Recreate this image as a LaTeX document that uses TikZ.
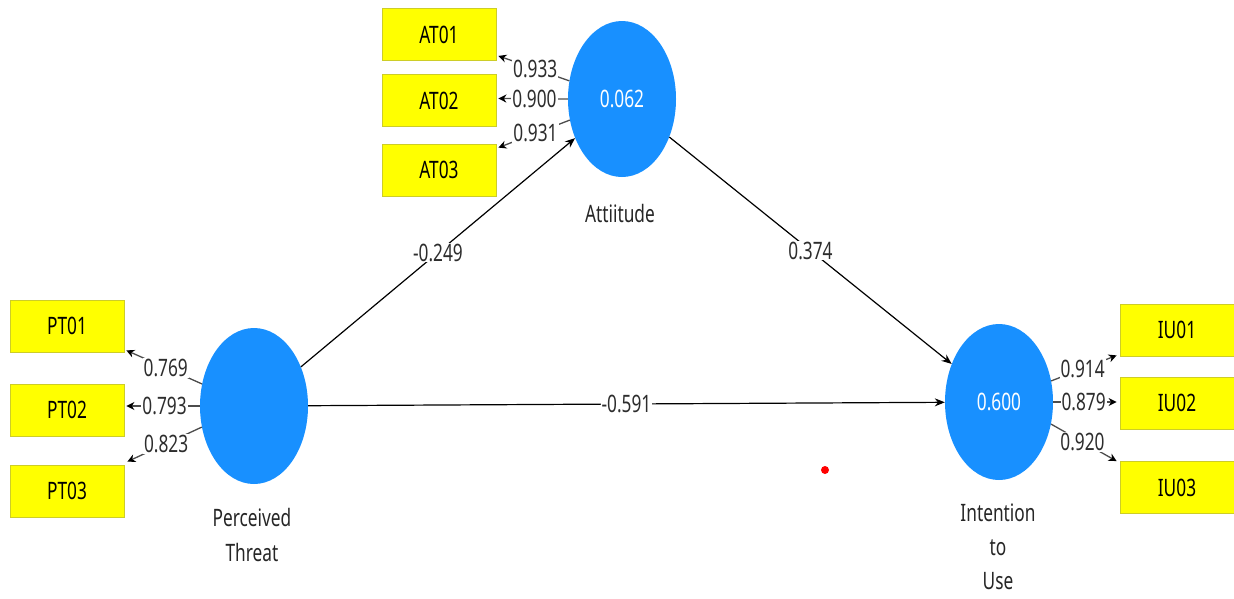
\documentclass[tikz,border=0pt]{standalone}
\usepackage{fontspec}
\setmainfont[FakeStretch=0.72]{Noto Sans}
\usetikzlibrary{shapes.geometric,arrows.meta,calc}
\definecolor{lvblue}{RGB}{24,144,255}
\definecolor{indyellow}{RGB}{255,255,0}
\definecolor{indborder}{RGB}{205,205,40}
\definecolor{txtgray}{RGB}{45,45,45}
\begin{document}
\begin{tikzpicture}[x=1pt,y=-1pt,
  every node/.style={font=\fontsize{24}{35}\selectfont},
  latent/.style={ellipse,fill=lvblue,draw=none,minimum width=108pt,minimum height=156pt,inner sep=0pt,text=white},
  indicator/.style={rectangle,fill=indyellow,draw=indborder,line width=0.8pt,minimum width=114pt,minimum height=52pt,inner sep=0pt,text=black},
  loading/.style={draw=black!70,line width=1.3pt,-{Stealth[length=8pt,width=8pt,color=black]}},
  path/.style={draw=black,line width=1.2pt,-{Stealth[length=10pt,width=8pt]}},
  lbl/.style={fill=white,inner sep=1pt,text=txtgray},
  caption/.style={align=center,text=black!85}]
\useasboundingbox (0,0) rectangle (1234,598);
\fill[white] (0,0) rectangle (1234,598);

% latent variables
\node[latent] (at) at (622,99) {0.062};
\node[latent] (pt) at (254,406) {};
\node[latent] (iu) at (999,402) {0.600};

% indicators
\node[indicator] (at01) at (439,34.5) {AT01};
\node[indicator] (at02) at (439,100.5) {AT02};
\node[indicator] (at03) at (439,170) {AT03};
\node[indicator] (pt01) at (67,326) {PT01};
\node[indicator] (pt02) at (67,410) {PT02};
\node[indicator] (pt03) at (67,491) {PT03};
\node[indicator] (iu01) at (1177,330) {IU01};
\node[indicator] (iu02) at (1177,403) {IU02};
\node[indicator] (iu03) at (1177,487.5) {IU03};

% captions
\node[caption] (atcap) at (620,213) {Attiitude};
\node[caption] (ptcap) at (252,535) {Perceived\\Threat};
\node[caption,font=\fontsize{24}{34}\selectfont] (iucap) at (998,547) {Intention\\to\\Use};

% loadings
\draw[loading] (at.161) -- node[lbl,pos=0.48] {0.933} ($(at01.south east)+(2,-5)$);
\draw[loading] (at.180) -- node[lbl,pos=0.48] {0.900} ($(at02.east)+(2,-2)$);
\draw[loading] (at.202) -- node[lbl,pos=0.48] {0.931} ($(at03.north east)+(2,4)$);
\draw[loading] (pt.157) -- node[lbl,pos=0.48] {0.769} ($(pt01.south east)+(2,-2)$);
\draw[loading] (pt.180) -- node[lbl,pos=0.48] {0.793} ($(pt02.east)+(2,-4)$);
\draw[loading] (pt.202) -- node[lbl,pos=0.48] {0.823} ($(pt03.north east)+(3,-3)$);
\draw[loading] (iu.22) -- node[lbl,pos=0.48] {0.914} ($(iu01.south west)+(-3,-1)$);
\draw[loading] (iu.0) -- node[lbl,pos=0.48] {0.879} ($(iu02.west)+(-3,-1)$);
\draw[loading] (iu.337) -- node[lbl,pos=0.48] {0.920} ($(iu03.north west)+(-3,0)$);

% structural paths
\draw[path] (pt) -- node[lbl] {-0.249} (at);
\draw[path] (at) -- node[lbl] {0.374} (iu);
\draw[path] (pt) -- node[lbl] {-0.591} (iu);

% red dot
\fill[red] (825,470) circle (4);
\end{tikzpicture}
\end{document}
